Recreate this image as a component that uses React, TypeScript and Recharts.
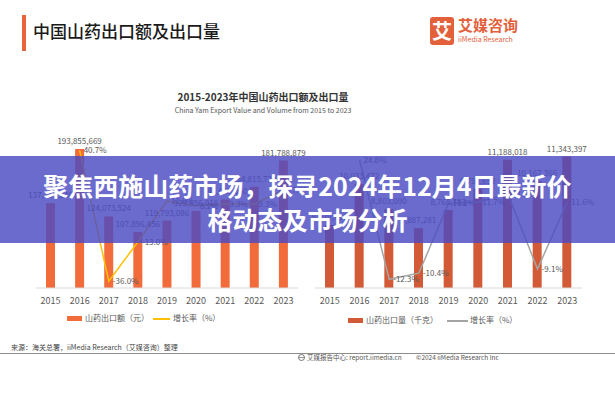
import React from "react";
import { ComposedChart, Bar, Line, XAxis, YAxis, LabelList } from "recharts";

const years = ["2015", "2016", "2017", "2018", "2019", "2020", "2021", "2022", "2023"];

// 山药出口额（元）
const exportValue = [137781240, 193855669, 124073524, 107896456, 119793086, 129656018, 141642360, 154815730, 181788879];
const valueGrowth = [null, 40.7, -36.0, -13.0, 11.0, 8.2, 9.3, 9.3, 17.4];

// 山药出口量（千克）
const exportVolume = [8039612, 10033472, 8803090, 7887281, 8768703, 9794652, 11188018, 10167366, 11343397];
const volumeGrowth = [null, 24.8, -12.3, -10.4, 11.2, 11.7, 14.2, -9.1, 11.6];

const font = '"Noto Sans CJK SC", "Noto Sans", sans-serif';

interface PairProps {
  left: number;
  width: number;
  marginLeft: number;
  marginRight: number;
  amounts: number[];
  rates: (number | null)[];
  barColor: string;
  lineColor: string;
  barDomain: [number, number];
  rateDomain: [number, number];
}

function PairChart(p: PairProps) {
  const data = years.map((y, i) => ({ year: y, amount: p.amounts[i], rate: p.rates[i] }));
  return (
    <div style={{ position: "absolute", left: p.left, top: 130 }}>
      <ComposedChart
        width={p.width}
        height={200}
        data={data}
        margin={{ top: 13, bottom: 22, left: p.marginLeft, right: p.marginRight }}
      >
        <XAxis
          dataKey="year"
          axisLine={{ stroke: "#D9D9D9" }}
          tickLine={false}
          interval={0}
          height={20}
          tickMargin={4}
          tick={{ fontSize: 9, fill: "#595959", fontFamily: font }}
        />
        <YAxis yAxisId="amt" hide domain={p.barDomain} allowDataOverflow />
        <YAxis yAxisId="rate" orientation="right" hide domain={p.rateDomain} allowDataOverflow />
        <Bar yAxisId="amt" dataKey="amount" fill={p.barColor} barSize={9} isAnimationActive={false}>
          <LabelList
            dataKey="amount"
            position="top"
            offset={5}
            formatter={(v: any) => Number(v).toLocaleString("en-US")}
            style={{ fontSize: 8, fill: "#595959", fontFamily: font }}
          />
        </Bar>
        <Line
          yAxisId="rate"
          dataKey="rate"
          stroke={p.lineColor}
          strokeWidth={1.5}
          dot={false}
          isAnimationActive={false}
        >
          <LabelList
            dataKey="rate"
            position="right"
            offset={4}
            formatter={(v: any) => (v == null ? "" : `${Number(v).toFixed(1)}%`)}
            style={{ fontSize: 8, fill: "#595959", fontFamily: font }}
          />
        </Line>
      </ComposedChart>
    </div>
  );
}

const abs = (s: React.CSSProperties): React.CSSProperties => ({ position: "absolute", whiteSpace: "nowrap", ...s });

export default function App() {
  return (
    <div
      style={{
        position: "absolute",
        left: 0,
        top: 0,
        width: 615,
        height: 400,
        background: "#fff",
        overflow: "hidden",
        fontFamily: font,
      }}
    >
      {/* header */}
      <div style={abs({ left: 22, top: 15, width: 4, height: 36, background: "#E8643C" })} />
      <div style={abs({ left: 33, top: 19, fontSize: 17, fontWeight: 500, color: "#1a1a1a", lineHeight: "24px" })}>
        中国山药出口额及出口量
      </div>
      <div
        style={abs({
          left: 430,
          top: 17,
          width: 24,
          height: 28,
          borderRadius: 3,
          background: "#E2603A",
          color: "#fff",
          fontSize: 20,
          fontWeight: 700,
          lineHeight: "28px",
          textAlign: "center",
        })}
      >
        艾
      </div>
      <div style={abs({ left: 458, top: 15, fontSize: 15, fontWeight: 700, color: "#E2603A", lineHeight: "20px" })}>
        艾媒咨询
      </div>
      <div style={abs({ left: 458, top: 35, fontSize: 7, color: "#E2603A", lineHeight: "9px" })}>iiMedia Research</div>

      {/* chart title */}
      <div style={abs({ left: 163, width: 200, top: 90, textAlign: "center", fontSize: 10, fontWeight: 700, color: "#333", lineHeight: "14px" })}>
        2015-2023年中国山药出口额及出口量
      </div>
      <div style={abs({ left: 163, width: 200, top: 105, textAlign: "center", fontSize: 7, color: "#555", lineHeight: "10px" })}>
        China Yam Export Value and Volume from 2015 to 2023
      </div>

      <PairChart
        left={0}
        width={307}
        marginLeft={36}
        marginRight={9}
        amounts={exportValue}
        rates={valueGrowth}
        barColor="#F26B3A"
        lineColor="#FFC000"
        barDomain={[50000000, 200000000]}
        rateDomain={[-40, 45]}
      />
      <PairChart
        left={307}
        width={308}
        marginLeft={8}
        marginRight={33}
        amounts={exportVolume}
        rates={volumeGrowth}
        barColor="#D35A36"
        lineColor="#A5A5A5"
        barDomain={[5000000, 12000000]}
        rateDomain={[-15, 30]}
      />

      {/* legends */}
      <div style={abs({ left: 67, top: 316, width: 15, height: 5, background: "#F26B3A" })} />
      <div style={abs({ left: 85, top: 312, fontSize: 8, color: "#595959", lineHeight: "12px" })}>山药出口额（元）</div>
      <div style={abs({ left: 153, top: 318, width: 17, height: 1.5, background: "#FFC000" })} />
      <div style={abs({ left: 173, top: 312, fontSize: 8, color: "#595959", lineHeight: "12px" })}>增长率（%）</div>

      <div style={abs({ left: 348, top: 318, width: 15, height: 5, background: "#D35A36" })} />
      <div style={abs({ left: 366, top: 314, fontSize: 8, color: "#595959", lineHeight: "12px" })}>山药出口量（千克）</div>
      <div style={abs({ left: 447, top: 320, width: 21, height: 1.5, background: "#A5A5A5" })} />
      <div style={abs({ left: 470, top: 314, fontSize: 8, color: "#595959", lineHeight: "12px" })}>增长率（%）</div>

      {/* footer */}
      <div style={abs({ left: 11, top: 342, fontSize: 7, color: "#444", lineHeight: "10px" })}>
        来源：海关总署，iiMedia Research（艾媒咨询）整理
      </div>
      <div style={abs({ left: 0, top: 353, width: 615, height: 1, background: "#8c8c8c" })} />
      <svg style={{ position: "absolute", left: 298, top: 354 }} width={7} height={7}>
        <circle cx={3.5} cy={3.5} r={3} fill="none" stroke="#555" strokeWidth={0.8} />
        <line x1={0.5} y1={3.5} x2={6.5} y2={3.5} stroke="#555" strokeWidth={0.6} />
      </svg>
      <div style={abs({ left: 307, top: 353, fontSize: 6.5, color: "#555", lineHeight: "9px" })}>
        艾媒报告中心: report.iimedia.cn
      </div>
      <div style={abs({ left: 416, top: 353, fontSize: 6.5, color: "#555", lineHeight: "9px" })}>
        ©2024 iiMedia Research Inc
      </div>

      {/* overlay banner */}
      <div style={abs({ left: 0, top: 156, width: 615, height: 87, background: "rgba(75, 75, 195, 0.82)" })} />
      <div
        style={abs({
          left: 0,
          width: 615,
          top: 168,
          textAlign: "center",
          fontSize: 25,
          fontWeight: 700,
          color: "#fff",
          lineHeight: "34px",
          whiteSpace: "normal",
        })}
      >
        聚焦西施山药市场，探寻2024年12月4日最新价
        <br />
        格动态及市场分析
      </div>
    </div>
  );
}
